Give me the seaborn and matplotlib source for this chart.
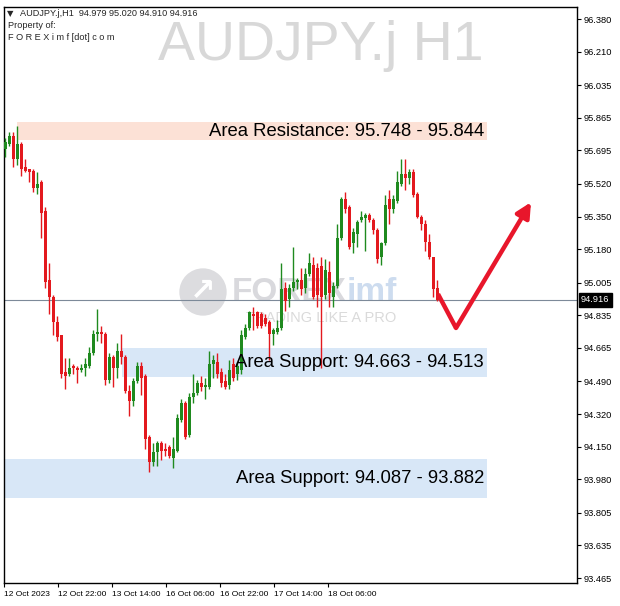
import numpy as np
import pandas as pd
import seaborn as sns
import matplotlib
matplotlib.use("Agg")
import matplotlib.pyplot as plt
from matplotlib.transforms import blended_transform_factory

# AUDJPY.j H1 candles (oldest -> newest)
opens = [95.70, 95.73, 95.77, 95.65, 95.73, 95.61, 95.60, 95.59, 95.50, 95.53,
         95.38, 95.02, 94.93, 94.80, 94.73, 94.54, 94.53, 94.57, 94.56, 94.55,
         94.56, 94.57, 94.64, 94.74, 94.75, 94.74, 94.50, 94.62, 94.56, 94.65,
         94.62, 94.44, 94.39, 94.49, 94.57, 94.52, 94.20, 94.07, 94.12, 94.17,
         94.14, 94.15, 94.09, 94.13, 94.29, 94.38, 94.21, 94.41, 94.43, 94.48,
         94.46, 94.46, 94.58, 94.59, 94.54, 94.49, 94.47, 94.58, 94.53, 94.55,
         94.72, 94.77, 94.84, 94.85, 94.84, 94.82, 94.80, 94.74, 94.75, 94.77,
         94.98, 94.92, 94.98, 95.01, 95.02, 94.98, 95.05, 95.10, 95.08, 95.09,
         94.94, 95.06, 94.93, 94.99, 95.24, 95.44, 95.40, 95.21, 95.26, 95.33,
         95.34, 95.36, 95.33, 95.28, 95.14, 95.21, 95.44, 95.39, 95.43, 95.52,
         95.57, 95.55, 95.58, 95.47, 95.35, 95.31, 95.22, 95.14, 94.979]
highs = [95.76, 95.79, 95.79, 95.82, 95.74, 95.65, 95.60, 95.60, 95.58, 95.54,
         95.40, 95.11, 94.94, 94.83, 94.73, 94.61, 94.61, 94.58, 94.57, 94.58,
         94.61, 94.67, 94.76, 94.87, 94.78, 94.75, 94.64, 94.63, 94.69, 94.74,
         94.63, 94.47, 94.51, 94.59, 94.59, 94.53, 94.21, 94.17, 94.18, 94.18,
         94.17, 94.16, 94.20, 94.32, 94.40, 94.39, 94.43, 94.53, 94.50, 94.52,
         94.51, 94.65, 94.63, 94.64, 94.56, 94.53, 94.60, 94.61, 94.59, 94.76,
         94.79, 94.86, 94.88, 94.86, 94.85, 94.84, 94.81, 94.77, 94.81, 95.11,
         95.01, 95.00, 95.19, 95.03, 95.08, 95.08, 95.16, 95.14, 95.11, 95.14,
         95.13, 95.12, 95.01, 95.31, 95.45, 95.48, 95.41, 95.29, 95.33, 95.38,
         95.37, 95.37, 95.34, 95.29, 95.22, 95.46, 95.49, 95.46, 95.59, 95.65,
         95.65, 95.60, 95.60, 95.48, 95.36, 95.33, 95.26, 95.14, 95.020]
lows = [95.66, 95.72, 95.61, 95.62, 95.56, 95.58, 95.53, 95.48, 95.47, 95.24,
        94.98, 94.84, 94.73, 94.70, 94.51, 94.45, 94.52, 94.53, 94.48, 94.54,
        94.52, 94.56, 94.63, 94.70, 94.69, 94.47, 94.48, 94.46, 94.51, 94.58,
        94.43, 94.31, 94.36, 94.48, 94.42, 94.14, 94.02, 94.05, 94.05, 94.08,
        94.10, 94.09, 94.04, 94.12, 94.28, 94.19, 94.20, 94.38, 94.42, 94.44,
        94.40, 94.45, 94.51, 94.51, 94.46, 94.45, 94.45, 94.49, 94.50, 94.53,
        94.71, 94.76, 94.76, 94.77, 94.77, 94.78, 94.60, 94.68, 94.74, 94.76,
        94.86, 94.88, 94.96, 94.97, 94.94, 94.95, 95.04, 94.92, 94.88, 94.56,
        94.92, 94.88, 94.88, 94.98, 95.23, 95.37, 95.18, 95.16, 95.19, 95.32,
        95.17, 95.32, 95.26, 95.11, 95.10, 95.20, 95.31, 95.37, 95.42, 95.51,
        95.49, 95.52, 95.45, 95.34, 95.28, 95.17, 95.13, 94.93, 94.910]
closes = [95.74, 95.77, 95.65, 95.73, 95.60, 95.59, 95.58, 95.50, 95.52, 95.37,
          95.01, 94.93, 94.80, 94.72, 94.53, 94.52, 94.56, 94.56, 94.55, 94.56,
          94.58, 94.64, 94.74, 94.75, 94.74, 94.50, 94.62, 94.56, 94.65, 94.62,
          94.44, 94.39, 94.49, 94.57, 94.51, 94.19, 94.07, 94.12, 94.17, 94.13,
          94.13, 94.10, 94.14, 94.30, 94.38, 94.20, 94.41, 94.43, 94.48, 94.46,
          94.47, 94.58, 94.60, 94.53, 94.48, 94.46, 94.55, 94.51, 94.57, 94.73,
          94.77, 94.85, 94.83, 94.78, 94.78, 94.79, 94.74, 94.76, 94.77, 94.97,
          94.91, 94.98, 95.01, 95.02, 94.97, 95.05, 95.11, 94.93, 94.94, 94.93,
          95.07, 94.95, 94.99, 95.24, 95.44, 95.39, 95.19, 95.27, 95.32, 95.35,
          95.36, 95.33, 95.28, 95.13, 95.21, 95.41, 95.39, 95.44, 95.53, 95.57,
          95.55, 95.58, 95.46, 95.35, 95.31, 95.22, 95.14, 94.97, 94.916]

last_price = 94.916
header = "AUDJPY.j,H1  94.979 95.020 94.910 94.916"

price_ticks = [96.380, 96.210, 96.035, 95.865, 95.695, 95.520, 95.350, 95.180,
               95.005, 94.835, 94.665, 94.490, 94.320, 94.150, 93.980, 93.805,
               93.635, 93.465]
date_labels = ["12 Oct 2023", "12 Oct 22:00", "13 Oct 14:00", "16 Oct 06:00",
               "16 Oct 22:00", "17 Oct 14:00", "18 Oct 06:00"]
date_bars = [-0.25, 13.25, 26.75, 40.25, 53.75, 67.25, 80.75]

# analyst zones: label prices as written on the chart, and first bar
zone_names = ["Area Resistance", "Area Support", "Area Support"]
zone_a = [95.748, 94.663, 94.087]
zone_b = [95.844, 94.513, 93.882]
zone_start = [3, 29.25, -0.25]
zone_end = 120.5
zone_colors = ["#fce1d6", "#d8e7f7", "#d8e7f7"]

# projected path (red arrow)
arrow_x = [108.25, 112.75, 131.5]
arrow_y = [94.946, 94.769, 95.425]

df = pd.DataFrame({"open": opens, "high": highs, "low": lows, "close": closes})
df["bar"] = np.arange(len(df))
df["up"] = df["close"] >= df["open"]

sns.set_theme(style="white")
plt.rcParams["font.family"] = ["Liberation Sans", "DejaVu Sans"]

W, H = 620, 606
fig = plt.figure(figsize=(W / 100, H / 100), dpi=100)
fig.patch.set_facecolor("white")
ax = fig.add_axes([4 / W, 23 / H, 573 / W, 576 / H])
ax.set_facecolor("white")


def fpx(x, y):
    return x / W, 1 - y / H


# watermarks
ax.text(*fpx(321, 60), "AUDJPY.j H1", transform=fig.transFigure, ha="center",
        va="baseline", fontsize=40, color="#d8d8d8", zorder=0.5)
ax.text(*fpx(203, 292), "\u2197", transform=fig.transFigure, ha="center", va="center",
        fontsize=22, color="white", fontweight="bold", family="DejaVu Sans", zorder=0.6,
        bbox=dict(boxstyle="circle,pad=0.3", fc="#dcdcdf", ec="none"))
ax.text(*fpx(232, 292), "FOREX", transform=fig.transFigure, ha="left", va="center",
        fontsize=24, fontweight="bold", color="#d9d9dd", zorder=0.6)
ax.text(*fpx(347, 292), "imf", transform=fig.transFigure, ha="left", va="center",
        fontsize=24, fontweight="bold", color="#cddcef", zorder=0.6)
ax.text(*fpx(321, 318), "TRADING LIKE A PRO", transform=fig.transFigure, ha="center",
        va="center", fontsize=10.5, color="#dadada", zorder=0.6)

# zones
for name, a, b, start, col in zip(zone_names, zone_a, zone_b, zone_start, zone_colors):
    ax.fill_between([start, zone_end], min(a, b), max(a, b), color=col, lw=0, zorder=0.2)
    ax.text(119.75, (a + b) / 2, f"{name}: {a:.3f} - {b:.3f}", ha="right",
            va="center", fontsize=13.3, color="black", zorder=6)

# last price line
ax.axhline(last_price, color="#7d8a99", lw=0.8, zorder=1)

# candles
green, red = "#1f8a1f", "#e3191e"
colors = np.where(df["up"], green, red)
ax.vlines(df["bar"], df["low"], df["high"], colors=colors, lw=1.0, zorder=3)
body_lo = df[["open", "close"]].min(axis=1)
body_h = (df["close"] - df["open"]).abs().clip(lower=0.007)
ax.bar(df["bar"], body_h, bottom=body_lo, width=0.75, color=colors, lw=0, zorder=4)

# projection arrow
ax.plot(arrow_x[:2], arrow_y[:2], color="#e8162b", lw=3.2, solid_capstyle="butt",
        solid_joinstyle="miter", zorder=7)
ax.annotate("", xy=(arrow_x[2], arrow_y[2]), xytext=(arrow_x[1], arrow_y[1]),
            arrowprops=dict(arrowstyle="-|>", color="#e8162b", lw=3.2,
                            mutation_scale=22, shrinkA=0, shrinkB=0), zorder=7)

# axes
ax.set_xlim(-0.25, 143)
ax.set_ylim(93.439, 96.443)
ax.yaxis.tick_right()
ax.set_yticks(price_ticks)
ax.set_yticklabels([f"{p:.3f}" for p in price_ticks])
ax.set_xticks(date_bars)
ax.set_xticklabels(date_labels)
for lbl in ax.get_xticklabels():
    lbl.set_horizontalalignment("left")
ax.tick_params(axis="y", right=True, left=False, direction="out", length=3,
               width=0.8, labelsize=6.7, pad=2, colors="black")
ax.tick_params(axis="x", bottom=True, direction="out", length=3, width=0.8,
               labelsize=6.0, pad=3, colors="black")
for s in ax.spines.values():
    s.set_color("black")
    s.set_linewidth(1.0)
ax.grid(False)
ax.set_xlabel("")
ax.set_ylabel("")

# current price tag
trans = blended_transform_factory(ax.transAxes, ax.transData)
ax.text(1 + 4 / 573, last_price, f"{last_price:.3f}", transform=trans, ha="left",
        va="center", fontsize=6.7, color="white", clip_on=False, zorder=8,
        bbox=dict(boxstyle="square,pad=0.25", fc="black", ec="black"))

# header
fig.text(*fpx(7, 14), "\u25bc", fontsize=6, family="DejaVu Sans", va="center")
fig.text(*fpx(20, 14), header, fontsize=6.6, va="center")
fig.text(*fpx(8, 26), "Property of:", fontsize=6.6, va="center")
fig.text(*fpx(8, 38), "F O R E X i m f [dot] c o m", fontsize=6.6, va="center")

fig.savefig("out.png", dpi=100)
